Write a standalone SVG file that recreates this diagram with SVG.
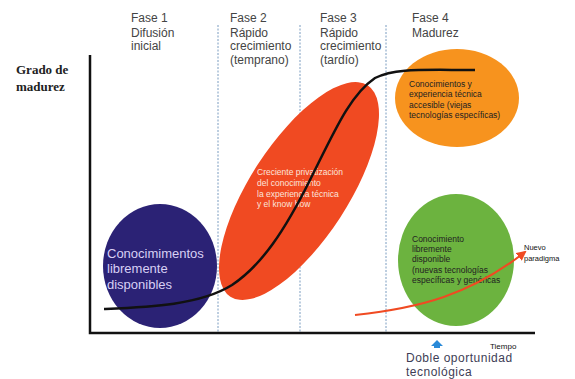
<svg xmlns="http://www.w3.org/2000/svg" width="575" height="379" viewBox="0 0 575 379">
<style>
.ph{font-family:"Liberation Sans",Arial,sans-serif;font-size:12px;fill:#444}
.sm{font-family:"Liberation Sans",Arial,sans-serif;font-size:8.5px;fill:#222}
.wt{font-family:"Liberation Sans",Arial,sans-serif;font-size:8.5px;fill:#fbe4dc}
.bt{font-family:"Liberation Sans",Arial,sans-serif;font-size:13px;fill:#d8d0f4}
.dash{stroke:#7a9cc0;stroke-width:1;stroke-dasharray:2,1.5;fill:none}
.axis{stroke:#111;stroke-width:2.5;fill:none}
.bl{font-family:"Liberation Sans",Arial,sans-serif;font-size:12px;fill:#3d3d55;letter-spacing:0.5px}
</style>
<defs>
<marker id="ra" viewBox="0 0 10 10" refX="8" refY="5" markerWidth="5" markerHeight="5" orient="auto"><path d="M0,0 L10,5 L0,10 z" fill="#f04a22"/></marker>
</defs>
<rect width="575" height="379" fill="#fff"/>
<g id="phases">
<line class="dash" x1="218" y1="25" x2="218" y2="332"/>
<line class="dash" x1="300" y1="25" x2="300" y2="332"/>
<line class="dash" x1="386" y1="25" x2="386" y2="332"/>
<text class="ph" x="131" y="22">Fase 1</text>
<text class="ph" x="131" y="37">Difusión</text>
<text class="ph" x="131" y="50">inicial</text>
<text class="ph" x="230" y="22">Fase 2</text>
<text class="ph" x="230" y="37">Rápido</text>
<text class="ph" x="230" y="50">crecimiento</text>
<text class="ph" x="230" y="64">(temprano)</text>
<text class="ph" x="320" y="22">Fase 3</text>
<text class="ph" x="320" y="37">Rápido</text>
<text class="ph" x="320" y="50">crecimiento</text>
<text class="ph" x="320" y="64">(tardío)</text>
<text class="ph" x="412" y="22">Fase 4</text>
<text class="ph" x="412" y="37">Madurez</text>
</g>
<g id="yaxis-label">
<text x="16" y="74" style="font-family:'Liberation Serif',serif;font-weight:bold;font-size:13px;fill:#222">Grado de</text>
<text x="16" y="91" style="font-family:'Liberation Serif',serif;font-weight:bold;font-size:13px;fill:#222">madurez</text>
</g>
<g id="node-blue">
<ellipse cx="160" cy="266" rx="57" ry="62" fill="#2b2275"/>
<text class="bt" x="107" y="258">Conocimimentos</text>
<text class="bt" x="107" y="273">libremente</text>
<text class="bt" x="107" y="289">disponibles</text>
</g>
<g id="node-red">
<ellipse cx="299" cy="191" rx="126" ry="49" transform="rotate(-57 299 191)" fill="#f04a22"/>
<text class="wt" x="257" y="175">Creciente privatización</text>
<text class="wt" x="257" y="186">del conocimiento</text>
<text class="wt" x="257" y="197">la experiencia técnica</text>
<text class="wt" x="257" y="207">y el know how</text>
</g>
<g id="node-orange">
<ellipse cx="457" cy="98" rx="62" ry="49" fill="#f7931e"/>
<text class="sm" x="409" y="87">Conocimientos y</text>
<text class="sm" x="409" y="97">experiencia técnica</text>
<text class="sm" x="409" y="108">accesible (viejas</text>
<text class="sm" x="409" y="118">tecnologías específicas)</text>
</g>
<g id="node-green">
<ellipse cx="456" cy="260" rx="58" ry="66" fill="#6cb33f"/>
<text class="sm" x="412" y="242">Conocimiento</text>
<text class="sm" x="412" y="252">libremente</text>
<text class="sm" x="412" y="262">disponible</text>
<text class="sm" x="412" y="273">(nuevas tecnologías</text>
<text class="sm" x="412" y="283">específicas y genéricas</text>
</g>
<g id="connectors">
<path d="M104,309 C150,307 200,305 232,285 C262,265 285,230 310,180 C335,130 350,95 375,78 C395,68 420,70 475,70" stroke="#111" stroke-width="2.5" fill="none"/>
<path d="M355,315 C420,308 470,295 525,252" stroke="#f04a22" stroke-width="2" fill="none" marker-end="url(#ra)"/>
<path class="axis" d="M90,55 L90,333 L535,333"/>
</g>
<g id="labels">
<text x="524" y="250" style="font-family:'Liberation Sans',Arial,sans-serif;font-size:7.5px;fill:#111">Nuevo</text>
<text x="524" y="261" style="font-family:'Liberation Sans',Arial,sans-serif;font-size:7.5px;fill:#111">paradigma</text>
<text x="490" y="349" style="font-family:'Liberation Sans',Arial,sans-serif;font-size:8px;fill:#111">Tiempo</text>
<path d="M431,346 L437,340 L443,346 L440,346 L440,348 L434,348 L434,346 z" fill="#2a8ad8"/>
<text class="bl" x="406" y="362">Doble oportunidad</text>
<text class="bl" x="406" y="376">tecnológica</text>
</g>
</svg>
